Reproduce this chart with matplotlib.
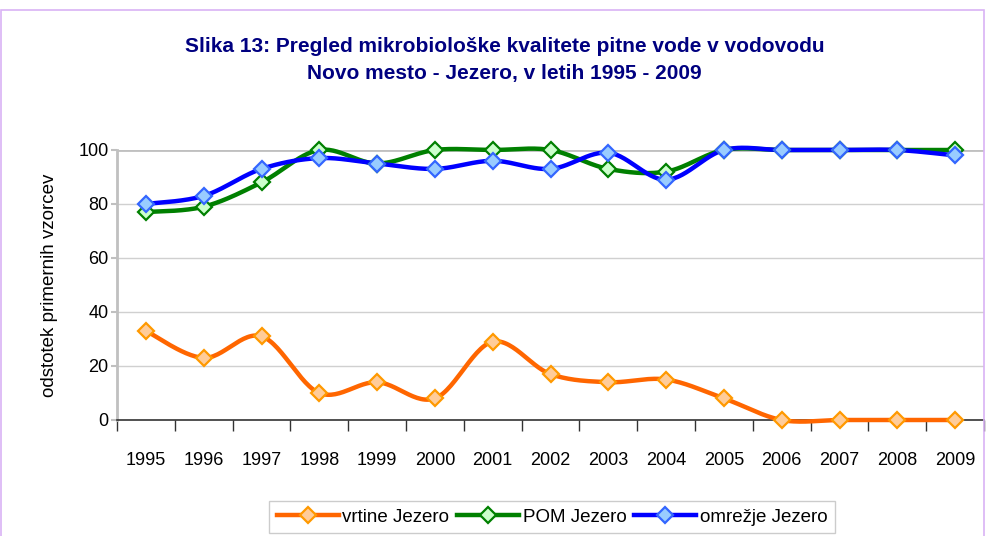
import numpy as np
import matplotlib
matplotlib.use("Agg")
import matplotlib.pyplot as plt
from matplotlib.patches import Rectangle
from matplotlib.lines import Line2D

years = ["1995", "1996", "1997", "1998", "1999", "2000", "2001", "2002",
         "2003", "2004", "2005", "2006", "2007", "2008", "2009"]
vrtine = [33, 23, 31, 10, 14, 8, 29, 17, 14, 15, 8, 0, 0, 0, 0]
pom = [77, 79, 88, 100, 95, 100, 100, 100, 93, 92, 100, 100, 100, 100, 100]
omrezje = [80, 83, 93, 97, 95, 93, 96, 93, 99, 89, 100, 100, 100, 100, 98]
labels = ["vrtine Jezero", "POM Jezero", "omrežje Jezero"]
title = "Slika 13: Pregled mikrobiološke kvalitete pitne vode v vodovodu\nNovo mesto - Jezero, v letih 1995 - 2009"
ylabel = "odstotek primernih vzorcev"

plt.rcParams['font.family'] = ['Liberation Sans', 'DejaVu Sans']


def smooth(x, y, n=30):
    # Catmull-Rom style curve through the data points (Excel "smoothed line")
    x = np.asarray(x, float)
    y = np.asarray(y, float)
    px = np.concatenate([[x[0]], x, [x[-1]]])
    py = np.concatenate([[y[0]], y, [y[-1]]])
    xs, ys = [], []
    t = np.linspace(0, 1, n)
    for i in range(1, len(px) - 2):
        p0, p1, p2, p3 = [np.array([px[j], py[j]]) for j in (i - 1, i, i + 1, i + 2)]
        c1 = p1 + (p2 - p0) / 6.0
        c2 = p2 - (p3 - p1) / 6.0
        b = ((1 - t) ** 3)[:, None] * p1 + (3 * (1 - t) ** 2 * t)[:, None] * c1 \
            + (3 * (1 - t) * t ** 2)[:, None] * c2 + (t ** 3)[:, None] * p2
        xs.append(b[:, 0])
        ys.append(b[:, 1])
    return np.concatenate(xs), np.concatenate(ys)


fig = plt.figure(figsize=(9.89, 5.36), dpi=100)
fig.patches.append(Rectangle((0.001, -0.01), 0.994, 1 - 0.001 - 9 / 536 + 0.01,
                             transform=fig.transFigure, fill=False,
                             edgecolor='#d9b3f5', linewidth=1.2))
ax = fig.add_axes([117 / 989, 1 - 420 / 536, (984 - 117) / 989, 270 / 536])

x = np.arange(len(years))
styles = [
    (vrtine, '#ff6600', '#ffcc99', '#ff9900'),
    (pom, '#008000', '#ccffcc', '#008000'),
    (omrezje, '#0000ff', '#99ccff', '#3366ff'),
]
handles = []
for (vals, lc, fc, ec), lab in zip(styles, labels):
    sx, sy = smooth(x, vals)
    ax.plot(sx, sy, color=lc, lw=3.2, solid_capstyle='round', zorder=3, clip_on=False)
    ax.plot(x, vals, ls='none', marker='D', ms=8.5, mfc=fc, mec=ec, mew=1.6, zorder=4,
            clip_on=False)
    handles.append(Line2D([0], [0], color=lc, lw=3.2, marker='D', ms=8.5,
                          mfc=fc, mec=ec, mew=1.6))

ax.set_xlim(-0.5, len(years) - 0.5)
ax.set_ylim(0, 100)
ax.set_yticks(range(0, 101, 20))
ax.set_xticks(x)
ax.set_xticklabels(years)
ax.set_xticks(np.arange(-0.5, len(years), 1), minor=True)
ax.tick_params(axis='x', which='major', length=0, pad=23, labelsize=13)
ax.tick_params(axis='x', which='minor', length=8, width=1, color='#333333', direction='out')
ax.tick_params(axis='y', length=4, width=1.5, color='#c0c0c0', labelsize=13, pad=2)
ax.grid(axis='y', color='#d0d0d0', lw=1)
ax.set_axisbelow(True)
for s in ['top', 'right']:
    ax.spines[s].set_visible(False)
ax.spines['left'].set_color('#c0c0c0')
ax.spines['left'].set_linewidth(2)
ax.spines['bottom'].set_color('#333333')
ax.spines['bottom'].set_linewidth(1.2)
ax.axhline(100, color='#c0c0c0', lw=2, zorder=1)
ax.set_ylabel(ylabel, fontsize=13.5, labelpad=15)

fig.text(0.51, 1 - 60 / 536, title, ha='center', va='center', fontsize=15,
         fontweight='bold', color='#000080', linespacing=1.55)

leg = fig.legend(handles, labels, loc='center', bbox_to_anchor=(552 / 989, 1 - 517 / 536),
                 ncol=3, frameon=True, fontsize=13.5, handlelength=3.3, handletextpad=0.2,
                 columnspacing=0.4, borderpad=0.4, fancybox=False, edgecolor='#c0c0c0')
leg.get_frame().set_linewidth(1)

fig.savefig("out.png", dpi=100)
